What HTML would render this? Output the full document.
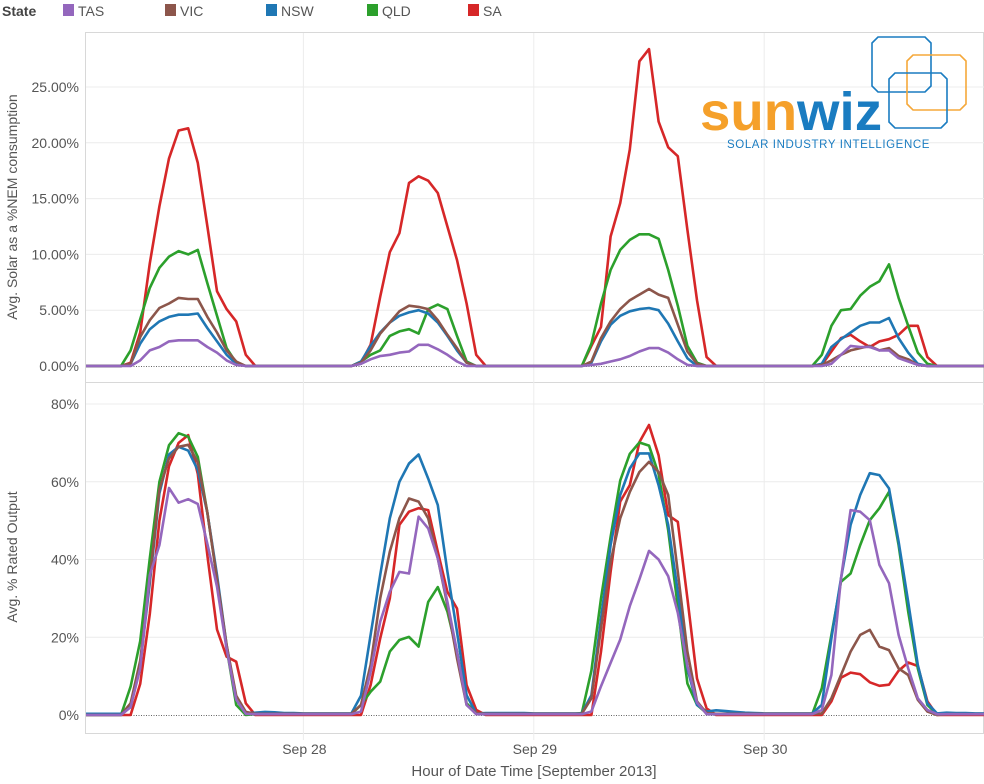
<!DOCTYPE html>
<html><head><meta charset="utf-8"><style>
html,body{margin:0;padding:0;background:#fff;width:984px;height:784px;overflow:hidden;font-family:"Liberation Sans",Arial,sans-serif}
svg{display:block}
text{font-family:"Liberation Sans",Arial,sans-serif}
</style></head><body>
<svg id="chart" width="984" height="784" viewBox="0 0 984 784">
  <g id="legend">
    <text x="2" y="16" font-size="14" font-weight="bold" fill="#444">State</text>
    <g><rect x="63" y="4" width="11" height="12" fill="#9467bd"/><text x="78" y="16" font-size="14" fill="#555">TAS</text></g>
    <g><rect x="165" y="4" width="11" height="12" fill="#8c564b"/><text x="180" y="16" font-size="14" fill="#555">VIC</text></g>
    <g><rect x="266" y="4" width="11" height="12" fill="#1f77b4"/><text x="281" y="16" font-size="14" fill="#555">NSW</text></g>
    <g><rect x="367" y="4" width="11" height="12" fill="#2ca02c"/><text x="382" y="16" font-size="14" fill="#555">QLD</text></g>
    <g><rect x="468" y="4" width="11" height="12" fill="#d62728"/><text x="483" y="16" font-size="14" fill="#555">SA</text></g>
  </g>
  <defs>
    <clipPath id="clipTop"><rect x="86" y="33" width="898" height="349"/></clipPath>
    <clipPath id="clipBot"><rect x="86" y="384" width="898" height="349"/></clipPath>
  </defs>
  <g id="grid"></g>
  <g id="logo">
    <polygon points="878,37 925,37 931,43 931,86 925,92 878,92 872,86 872,43" fill="none" stroke="#1a7cc1" stroke-width="1.6"/>
    <polygon points="913,55 960,55 966,61 966,104 960,110 913,110 907,104 907,61" fill="none" stroke="#f5a83a" stroke-width="1.6"/>
    <polygon points="895,73 941,73 947,79 947,122 941,128 895,128 889,122 889,79" fill="none" stroke="#1a7cc1" stroke-width="1.6"/>
    <text x="700" y="130" font-size="54" font-weight="bold" textLength="182" lengthAdjust="spacingAndGlyphs"><tspan fill="#f5a02a">sun</tspan><tspan fill="#1a7cc1">wiz</tspan></text>
    <text x="727" y="148" font-size="11.5" fill="#1a7cc1" letter-spacing="0.6">SOLAR INDUSTRY INTELLIGENCE</text>
  </g>
  <g id="series"></g>
  <g id="axes"></g>
</svg>
<script>
const hours = Array.from({length:96},(_,i)=>i);
const dayTicks = [24,48,72];
const dayLabels = ["Sep 28","Sep 29","Sep 30"];
const topTicks = [0,5,10,15,20,25];
const topTickLabels = ["0.00%","5.00%","10.00%","15.00%","20.00%","25.00%"];
const botTicks = [0,20,40,60,80];
const botTickLabels = ["0%","20%","40%","60%","80%"];
const states = ["TAS","VIC","NSW","QLD","SA"];

const topTAS = [0,0,0,0,0,0,0,0.5,1.4,1.7,2.2,2.3,2.3,2.3,1.7,1.2,0.5,0.1,0,0,0,0,0,0,
 0,0,0,0,0,0,0.2,0.6,0.9,1.0,1.2,1.3,1.9,1.9,1.5,1.0,0.4,0,0,0,0,0,0,0,
 0,0,0,0,0,0,0.1,0.2,0.4,0.6,0.9,1.3,1.6,1.6,1.2,0.6,0.1,0,0,0,0,0,0,0,
 0,0,0,0,0,0,0,0.2,1.0,1.8,1.7,1.7,1.4,1.4,0.7,0.4,0.1,0,0,0,0,0,0,0];
const topVIC = [0,0,0,0,0,0,0.2,2.6,4.1,5.2,5.6,6.1,6.0,6.0,4.4,3.0,1.4,0.4,0,0,0,0,0,0,
 0,0,0,0,0,0,0.3,1.4,2.9,3.9,4.9,5.4,5.3,5.1,4.1,2.8,1.6,0.3,0,0,0,0,0,0,
 0,0,0,0,0,0,0.4,2.5,4.0,5.1,5.9,6.4,6.9,6.4,6.1,3.7,1.3,0.2,0,0,0,0,0,0,
 0,0,0,0,0,0,0.1,0.5,1.0,1.4,1.6,1.8,1.4,1.6,0.9,0.6,0.1,0,0,0,0,0,0,0];
const topNSW = [0,0,0,0,0,0,0.2,2.0,3.3,4.0,4.4,4.6,4.6,4.7,3.4,2.2,1.0,0.2,0,0,0,0,0,0,
 0,0,0,0,0,0,0.4,1.8,3.0,3.9,4.5,4.8,5.0,4.7,3.9,2.7,1.4,0.3,0,0,0,0,0,0,
 0,0,0,0,0,0,0.3,2.2,3.7,4.5,4.9,5.1,5.2,5.0,3.8,2.2,0.7,0,0,0,0,0,0,0,
 0,0,0,0,0,0,0.2,1.7,2.4,3.0,3.6,3.9,3.9,4.3,2.5,1.2,0.2,0,0,0,0,0,0,0];
const topQLD = [0,0,0,0,0,0,1.4,4.2,7.0,8.8,9.8,10.3,10.0,10.4,7.4,4.5,1.6,0.3,0,0,0,0,0,0,
 0,0,0,0,0,0,0.4,1.0,1.4,2.7,3.1,3.3,2.9,5.1,5.5,5.1,2.7,0.4,0,0,0,0,0,0,
 0,0,0,0,0,0,2.0,5.6,8.6,10.4,11.3,11.8,11.8,11.4,8.6,5.4,1.8,0.3,0,0,0,0,0,0,
 0,0,0,0,0,0,1.0,3.6,5.0,5.1,6.3,7.1,7.6,9.1,6.1,3.6,1.2,0.2,0,0,0,0,0,0];
const topSA = [0,0,0,0,0,0,0.3,3.0,9.2,14.3,18.6,21.1,21.3,18.2,12.5,6.7,5.1,4.0,1.0,0,0,0,0,0,
 0,0,0,0,0,0,0.3,1.9,6.2,10.2,11.9,16.4,17.0,16.6,15.5,12.5,9.5,5.6,1.0,0,0,0,0,0,
 0,0,0,0,0,0,1.8,3.5,11.6,14.6,19.4,27.3,28.4,21.9,19.6,18.8,12.2,5.9,0.8,0,0,0,0,0,
 0,0,0,0,0,0,0.1,1.3,2.5,2.8,2.2,1.7,2.2,2.4,2.8,3.6,3.6,0.8,0,0,0,0,0,0];

const botTAS = [0,0,0,0,0,0,2,12,36,43.7,58.4,54.6,55.5,54.3,44,33,17,4,0.3,0.2,0.2,0.2,0.2,0.2,
 0.2,0.2,0.2,0.2,0.2,0.2,0.9,11.1,24,31.7,36.8,36.4,51,48,40.3,29.1,16.3,2.6,0.2,0.2,0.2,0.2,0.2,0.2,
 0.2,0.2,0.2,0.2,0.2,0.2,0.9,7.4,13.4,19.4,28,34.9,42.2,40,35.7,26.3,12.6,3.2,0.2,0.2,0.2,0.2,0.2,0.2,
 0.2,0.2,0.2,0.2,0.2,0.2,1.3,10.3,35.1,52.7,52.3,50.1,38.6,33.9,20.6,12,4.3,1.3,0.2,0.2,0.2,0.2,0.2,0.2];
const botVIC = [0,0,0,0,0,0,3,14,35,58,66,69,69.5,65,52,35,18,5,0.8,0.3,0.3,0.3,0.3,0.3,
 0.3,0.3,0.3,0.3,0.3,0.3,2.6,12.9,30,42,50.6,55.7,54.9,50.6,40.3,28.3,14.6,2.6,0.5,0.3,0.3,0.3,0.3,0.3,
 0.3,0.3,0.3,0.3,0.3,0.3,4.3,22.3,39.4,50.6,57.4,62.5,65.1,62.5,56.6,36.8,16.3,3.5,0.5,0.3,0.3,0.3,0.3,0.3,
 0.3,0.3,0.3,0.3,0.3,0.3,0.4,4.3,10.3,16.3,20.6,21.9,17.6,16.7,12,10.3,3.9,0.9,0,0.2,0.2,0.2,0.2,0.2];
const botNSW = [0.3,0.3,0.3,0.3,0.3,0.3,2,13,34,57,67,69,68,63,52,36,18,4,0.5,0.6,0.8,0.7,0.5,0.5,
 0.4,0.4,0.4,0.4,0.4,0.4,5,20.6,36,50.6,60,64.7,67,60.8,54,36.9,21.4,5.1,0.4,0.5,0.5,0.5,0.5,0.5,
 0.4,0.4,0.4,0.4,0.4,0.4,5.1,24.8,43.7,56.6,63.4,67.3,67.3,59.1,48.9,31.7,12,2.6,0.9,1.2,1.0,0.8,0.6,0.5,
 0.4,0.4,0.4,0.4,0.4,0.4,2.6,19.7,35.1,48.9,56.6,62.2,61.7,58.3,44.6,29.1,12.9,3.0,0.4,0.6,0.5,0.5,0.4,0.4];
const botQLD = [0,0,0,0,0,0,7.3,19,40.3,60,69.4,72.5,71.6,66.4,52,35.2,17.2,2.6,0,0.2,0.2,0.2,0.2,0.2,
 0.2,0.2,0.2,0.2,0.2,0.2,2.6,6,8.6,16.3,19.3,20.1,17.6,29.1,32.9,26.6,16.3,3,0.5,0.2,0.2,0.2,0.2,0.2,
 0.2,0.2,0.2,0.2,0.2,0.5,11.4,30,45.8,60.3,67.2,70.1,69.3,62,47.5,27.8,8.1,2.6,0.5,0.2,0.2,0.2,0.2,0.2,
 0.2,0.2,0.2,0.2,0.2,0.2,6.9,20.6,34.3,36.4,43.7,50.1,53.2,57.4,43.7,26.6,12,2.6,0.2,0.2,0.2,0.2,0.2,0.2];
const botSA = [0,0,0,0,0,0,0,8,26,50,64,70,72,62,41,22,15,13.7,3,0,0,0,0,0,
 0,0,0,0,0,0,0,7.7,19.7,30,48.9,52.3,53.2,52.7,42,31.7,27.4,7.7,1.3,0,0,0,0,0,
 0,0,0,0,0,0,0,16.3,36.8,54.9,59.1,70.2,74.6,66.8,51.4,49.7,30,9.4,1.7,0,0,0,0,0,
 0,0,0,0,0,0,0,3.5,9.6,10.9,10.5,8.4,7.5,7.8,11.4,13.5,12.6,3.5,0,0,0,0,0,0];

const colors = {TAS:"#9467bd",VIC:"#8c564b",NSW:"#1f77b4",QLD:"#2ca02c",SA:"#d62728"};
const NS = "http://www.w3.org/2000/svg";
const xS = h => 73 + 9.6*h;
const yTop = v => 366 - v*11.16;
const yBot = v => 715 - v*3.8875;

function mk(tag, attrs, parent){
  const el = document.createElementNS(NS, tag);
  for (const k in attrs) el.setAttribute(k, attrs[k]);
  parent.appendChild(el);
  return el;
}
const grid = document.getElementById('grid');
const axes = document.getElementById('axes');
const series = document.getElementById('series');

let f1 = mk('rect',{x:85.5,y:32.5,width:898,height:350,fill:'none',stroke:'#d8d8d8'},grid);


let f2 = mk('rect',{x:85.5,y:382.5,width:898,height:351,fill:'none',stroke:'#d8d8d8'},grid);



topTicks.forEach((t,i)=>{
  const y = yTop(t);
  if (t>0){ const g = mk('line',{x1:86,x2:984,y1:y,y2:y,stroke:'#ececec'},grid);
    
     }
  const tx = mk('text',{x:79,y:y+5,'font-size':14,fill:'#555','text-anchor':'end'},axes);
  tx.textContent = topTickLabels[i];
  
  
});
botTicks.forEach((t,i)=>{
  const y = yBot(t);
  if (t>0){ const g = mk('line',{x1:86,x2:984,y1:y,y2:y,stroke:'#ececec'},grid);
    
     }
  const tx = mk('text',{x:79,y:y+5,'font-size':14,fill:'#555','text-anchor':'end'},axes);
  tx.textContent = botTickLabels[i];
  
  
});
dayTicks.forEach((d,i)=>{
  const x = xS(d);
  const g = mk('line',{x1:x,x2:x,y1:33,y2:740,stroke:'#ececec'},grid);
  
  
  const tx = mk('text',{x:x+1,y:754,'font-size':14,fill:'#555','text-anchor':'middle'},axes);
  tx.textContent = dayLabels[i];
  
  
});
[yTop(0),yBot(0)].forEach(y=>{
  const z = mk('line',{x1:86,x2:984,y1:y+0.5,y2:y+0.5,stroke:'#333','stroke-dasharray':'1,1.5','stroke-width':0.8},grid);
  
  
});

let xt = mk('text',{x:534,y:776,'font-size':15,fill:'#555','text-anchor':'middle'},axes);
xt.textContent = 'Hour of Date Time [September 2013]';


let yt1 = mk('text',{x:0,y:0,'font-size':14,fill:'#555','text-anchor':'middle',transform:'translate(17,207) rotate(-90)'},axes);
yt1.textContent = 'Avg. Solar as a %NEM consumption';


let yt2 = mk('text',{x:0,y:0,'font-size':14,fill:'#555','text-anchor':'middle',transform:'translate(17,557) rotate(-90)'},axes);
yt2.textContent = 'Avg. % Rated Output';



const topData = {TAS:topTAS,VIC:topVIC,NSW:topNSW,QLD:topQLD,SA:topSA};
const botData = {TAS:botTAS,VIC:botVIC,NSW:botNSW,QLD:botQLD,SA:botSA};
const order = ["SA","QLD","NSW","VIC","TAS"];
function draw(data, yf, clip, prefix){
  const g = mk('g',{'clip-path':'url(#'+clip+')'},series);
  
  
  order.forEach(s=>{
    const pts = data[s].map((v,i)=>xS(hours[i]).toFixed(1)+','+yf(v).toFixed(1)).join(' ');
    const pl = mk('polyline',{points:pts,fill:'none',stroke:colors[s],'stroke-width':2.6,'stroke-linejoin':'round'},g);
    
    
  });
}
draw(topData, yTop, 'clipTop', 'top');
draw(botData, yBot, 'clipBot', 'bottom');
</script>
</body></html>
